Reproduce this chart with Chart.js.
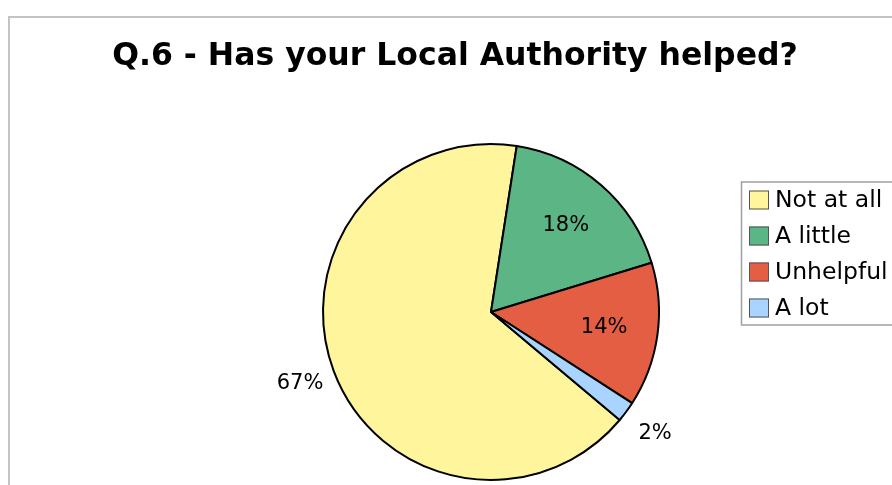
<!DOCTYPE html>
<html>
<head>
<meta charset="utf-8">
<script src="https://cdn.jsdelivr.net/npm/chart.js@4.4.0/dist/chart.umd.min.js"></script>
<style>
  html, body { margin: 0; padding: 0; background: #fff; }
  #wrap { width: 892px; height: 485px; }
</style>
</head>
<body>
<div id="wrap"><canvas id="pieChart" width="892" height="485"></canvas></div>
<script>
var chartTitle = 'Q.6 - Has your Local Authority helped?';
var categories = ['Not at all', 'A little', 'Unhelpful', 'A lot'];
var percentages = [67, 18, 14, 2];
var sliceColors = ['#fff59d', '#5bb584', '#e35e42', '#a8d4ff'];
var labelInside = [false, true, true, false];

var FONT = '"DejaVu Sans", Verdana, sans-serif';

// frame, title and legend box drawn around the pie
var decorPlugin = {
    id: 'decor',
    beforeDraw: function (chart) {
        var ctx = chart.ctx;
        ctx.save();
        ctx.fillStyle = '#fff';
        ctx.fillRect(0, 0, chart.width, chart.height);
        ctx.strokeStyle = '#c4c4c4';
        ctx.lineWidth = 2;
        ctx.beginPath();
        ctx.moveTo(9, chart.height);
        ctx.lineTo(9, 17);
        ctx.lineTo(chart.width, 17);
        ctx.stroke();

        ctx.fillStyle = '#000';
        ctx.font = 'bold 31.5px ' + FONT;
        ctx.textAlign = 'center';
        ctx.textBaseline = 'alphabetic';
        ctx.fillText(chartTitle, 455, 65);
        ctx.restore();
    },
    afterDraw: function (chart) {
        var ctx = chart.ctx;
        ctx.save();
        ctx.strokeStyle = '#a0a0a0';
        ctx.lineWidth = 1.5;
        ctx.strokeRect(741.5, 182, 220, 143);
        ctx.font = '23.5px ' + FONT;
        ctx.textAlign = 'left';
        ctx.textBaseline = 'middle';
        categories.forEach(function (name, i) {
            var cy = 200 + i * 36;
            ctx.fillStyle = sliceColors[i];
            ctx.fillRect(749, cy - 9.5, 20, 19);
            ctx.strokeStyle = '#555';
            ctx.lineWidth = 1;
            ctx.strokeRect(749.5, cy - 9, 19, 18);
            ctx.fillStyle = '#000';
            ctx.fillText(name, 775, cy + 1);
        });
        ctx.restore();
    }
};

// percentage labels, inside or just outside each slice
var sliceLabels = {
    id: 'sliceLabels',
    afterDatasetsDraw: function (chart) {
        var ctx = chart.ctx;
        var arcs = chart.getDatasetMeta(0).data;
        ctx.save();
        ctx.fillStyle = '#000';
        ctx.font = '21px ' + FONT;
        ctx.textAlign = 'center';
        ctx.textBaseline = 'middle';
        arcs.forEach(function (arc, i) {
            var p = arc.getProps(['x', 'y', 'startAngle', 'endAngle', 'outerRadius']);
            var mid = (p.startAngle + p.endAngle) / 2;
            var r = labelInside[i] ? p.outerRadius * 0.68 : p.outerRadius + 36;
            ctx.fillText(percentages[i] + '%', p.x + Math.cos(mid) * r, p.y + Math.sin(mid) * r);
        });
        ctx.restore();
    }
};

var ctx = document.getElementById('pieChart').getContext('2d');
var pieChart = new Chart(ctx, {
    type: 'pie',
    data: {
        labels: categories,
        datasets: [{
            data: percentages,
            backgroundColor: sliceColors,
            borderColor: '#000',
            borderWidth: 2
        }]
    },
    options: {
        responsive: false,
        animation: false,
        events: [],
        rotation: 130,
        radius: 168,
        layout: {
            padding: { left: 323, right: 233, top: 144, bottom: 5 }
        },
        plugins: {
            legend: { display: false },
            title: { display: false },
            tooltip: { enabled: false }
        }
    },
    plugins: [decorPlugin, sliceLabels]
});
</script>
</body>
</html>
